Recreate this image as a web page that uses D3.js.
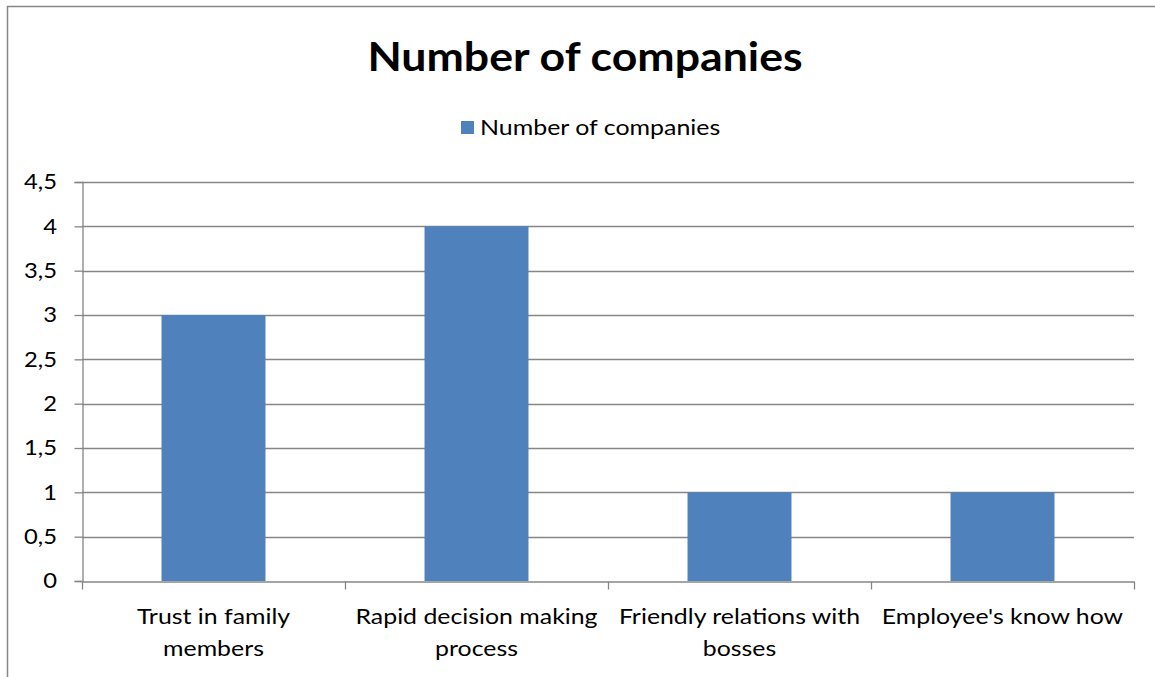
<!DOCTYPE html>
<html>
<head>
<meta charset="utf-8">
<script src="https://cdn.jsdelivr.net/npm/d3@7"></script>
<style>
  html, body { margin: 0; padding: 0; background: #fff; }
  svg { display: block; }
  text { font-family: Lato, "Open Sans", sans-serif; fill: #000; }
</style>
</head>
<body>
<svg id="chart" width="1155" height="677"></svg>
<script>
// Data
const categories = [
  "Trust in family members",
  "Rapid decision making process",
  "Friendly relations with bosses",
  "Employee's know how"
];
const categoryLines = [
  ["Trust in family", "members"],
  ["Rapid decision making", "process"],
  ["Friendly relations with", "bosses"],
  ["Employee's know how"]
];
const companyCounts = [3, 4, 1, 1];
const yTicks = [0, 0.5, 1, 1.5, 2, 2.5, 3, 3.5, 4, 4.5];
const seriesName = "Number of companies";
const chartTitle = "Number of companies";

const W = 1155, H = 677;
const svg = d3.select("#chart");

// text placed with a slight horizontal stretch
function label(parent, x, y, str, opts) {
  const g = parent.append("g").attr("transform", `translate(${x},${y}) scale(${opts.sx || 1},1)`);
  return g.append("text")
    .attr("text-anchor", opts.anchor || "start")
    .attr("font-size", opts.size)
    .attr("font-weight", opts.weight || "normal")
    .attr("dy", opts.dy || 0)
    .text(str);
}

// outer chart frame
svg.append("rect")
  .attr("x", 7.5).attr("y", 6.5)
  .attr("width", W + 20).attr("height", H + 20)
  .attr("fill", "#fff").attr("stroke", "#868686").attr("stroke-width", 1.5);

const plot = { left: 82, right: 1134, top: 182, bottom: 581 };

const x = d3.scaleBand().domain(categories).range([plot.left, plot.right]).padding(0);
const y = d3.scaleLinear().domain([0, 4.5]).range([plot.bottom, plot.top]);
const fmt = d => String(d).replace(".", ",");

// gridlines
svg.append("g").selectAll("line").data(yTicks.filter(d => d > 0)).join("line")
  .attr("x1", plot.left).attr("x2", plot.right)
  .attr("y1", d => Math.round(y(d)) + 0.5).attr("y2", d => Math.round(y(d)) + 0.5)
  .attr("stroke", "#868686").attr("stroke-width", 1.3);

// bars
const barW = x.bandwidth() / 2.53;
svg.append("g").selectAll("rect").data(companyCounts).join("rect")
  .attr("x", (d, i) => x(categories[i]) + (x.bandwidth() - barW) / 2)
  .attr("y", d => y(d))
  .attr("width", barW)
  .attr("height", d => y(0) - y(d))
  .attr("fill", "#4F81BD");

// y axis
const yAxis = svg.append("g").attr("transform", `translate(${plot.left + 0.5},0)`)
  .call(d3.axisLeft(y).tickValues(yTicks).tickFormat("").tickSize(8));
yAxis.select(".domain").attr("stroke", "#868686").attr("stroke-width", 1.3);
yAxis.selectAll(".tick line").attr("stroke", "#868686").attr("stroke-width", 1.3);
const yLabels = svg.append("g");
yTicks.forEach(t => label(yLabels, 57, y(t), fmt(t), { size: 20.5, sx: 1.16, anchor: "end", dy: "0.36em" }));

// x axis
const xAxis = svg.append("g").attr("transform", `translate(0,${plot.bottom + 0.5})`)
  .call(d3.axisBottom(x).tickSize(0).tickFormat(""));
xAxis.select(".domain").attr("stroke", "#868686").attr("stroke-width", 1.3);
const bounds = categories.map(c => x(c)).concat([plot.right]);
xAxis.append("g").selectAll("line").data(bounds).join("line")
  .attr("x1", d => Math.round(d) + 0.5).attr("x2", d => Math.round(d) + 0.5)
  .attr("y1", 0).attr("y2", 8)
  .attr("stroke", "#868686").attr("stroke-width", 1.3);

// category labels
const labels = svg.append("g");
categoryLines.forEach((lines, i) => {
  const cx = x(categories[i]) + x.bandwidth() / 2;
  lines.forEach((ln, j) => label(labels, cx, 624 + j * 32, ln, { size: 22, sx: 1.13, anchor: "middle" }));
});

// title
label(svg, 585, 71, chartTitle, { size: 39.5, sx: 1.13, anchor: "middle", weight: "bold" });

// legend
const lg = svg.append("g");
lg.append("rect").attr("x", 461).attr("y", 121).attr("width", 13).attr("height", 13).attr("fill", "#4F81BD");
label(lg, 480, 135, seriesName, { size: 21.5, sx: 1.16 });
</script>
</body>
</html>
